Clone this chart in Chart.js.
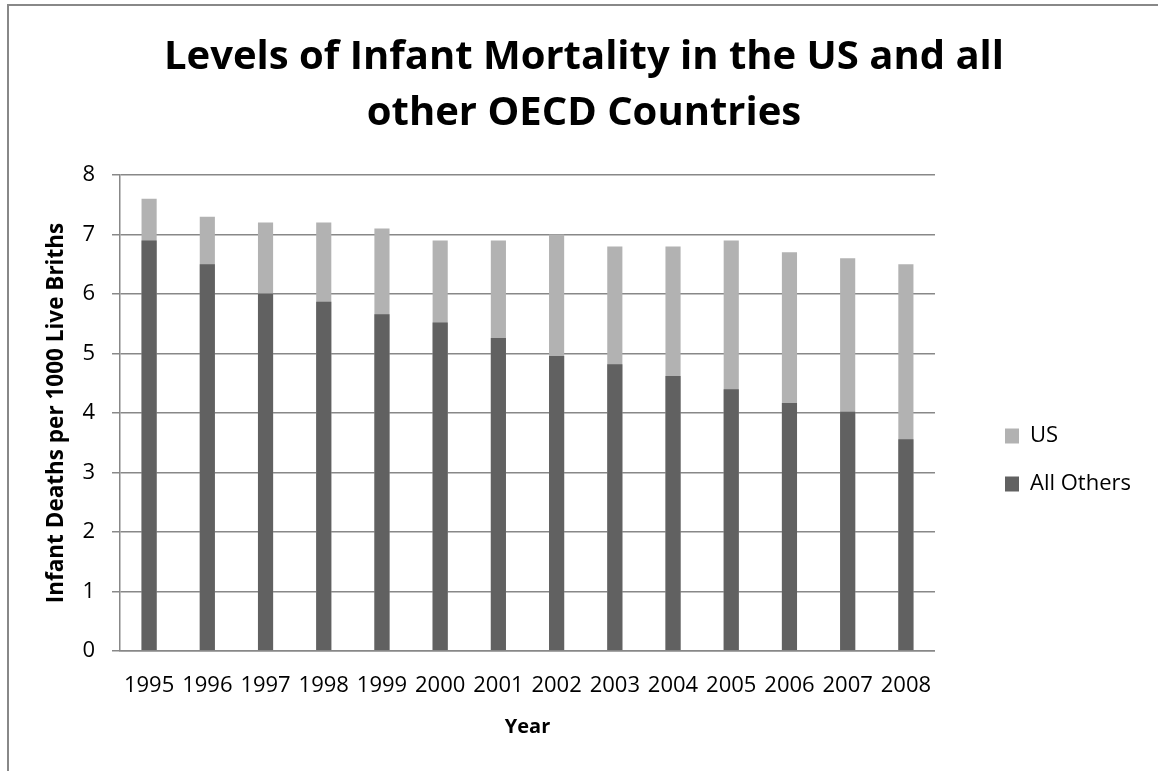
<!DOCTYPE html>
<html>
<head>
<meta charset="utf-8">
<script src="https://cdn.jsdelivr.net/npm/chart.js@4.4.1/dist/chart.umd.min.js"></script>
<style>
  html, body { margin: 0; padding: 0; background: #fff; overflow: hidden; }
  #wrap { position: relative; width: 1158px; height: 771px; }
  #frame { position: absolute; left: 7px; top: 4px; width: 2000px; height: 2000px;
           border: 2px solid #888888; box-sizing: border-box; }
  canvas { position: absolute; left: 0; top: 0; }
</style>
</head>
<body>
<div id="wrap">
  <div id="frame"></div>
  <canvas id="c" width="1158" height="771"></canvas>
</div>
<script>
const years = ['1995','1996','1997','1998','1999','2000','2001','2002','2003','2004','2005','2006','2007','2008'];
const usValues = [7.6, 7.3, 7.2, 7.2, 7.1, 6.9, 6.9, 7.0, 6.8, 6.8, 6.9, 6.7, 6.6, 6.5];
const allOthersValues = [6.9, 6.5, 6.01, 5.87, 5.66, 5.52, 5.26, 4.96, 4.82, 4.62, 4.4, 4.17, 4.02, 3.56];
const yTicks = [0, 1, 2, 3, 4, 5, 6, 7, 8];
const titleLines = ['Levels of Infant Mortality in the US and all', 'other OECD Countries'];
const yTitle = 'Infant Deaths per 1000 Live Briths';
const xTitle = 'Year';

Chart.defaults.font.family = "'Open Sans', sans-serif";
Chart.defaults.color = '#000';

const gridColor = '#888888';

new Chart(document.getElementById('c'), {
  type: 'bar',
  data: {
    labels: years,
    datasets: [
      { label: 'US', data: usValues, backgroundColor: '#b2b2b2', order: 1 },
      { label: 'All Others', data: allOthersValues, backgroundColor: '#616161', order: 0 }
    ]
  },
  options: {
    responsive: false,
    animation: false,
    datasets: { bar: { grouped: false, categoryPercentage: 1, barPercentage: 0.26 } },
    layout: { padding: { left: 27, right: 17, top: 0, bottom: 0 } },
    plugins: {
      tooltip: { enabled: false },
      title: {
        display: true,
        text: titleLines,
        color: '#000',
        font: { size: 40, weight: 'bold', lineHeight: 1.4 },
        padding: { top: 30, bottom: 33 }
      },
      legend: {
        display: true,
        position: 'right',
        align: 'start',
        title: { display: true, text: ' ', font: { size: 10 }, padding: { top: 0, bottom: 387 } },
        labels: {
          boxWidth: 14,
          boxHeight: 15,
          padding: 26,
          color: '#000',
          font: { size: 22 },
          sort: (a, b) => a.datasetIndex - b.datasetIndex
        }
      }
    },
    scales: {
      x: {
        grid: { display: false, drawTicks: false },
        border: { display: true, color: gridColor, width: 1.5 },
        ticks: { padding: 22, font: { size: 22 }, color: '#000', maxRotation: 0, autoSkip: false },
        title: { display: true, text: xTitle, font: { size: 20, weight: 'bold' }, padding: { top: 0, bottom: 32 } },
        afterFit: s => { s.height = 120; }
      },
      y: {
        min: 0,
        max: 8,
        afterBuildTicks: s => { s.ticks = yTicks.map(v => ({ value: v })); },
        grid: { color: gridColor, lineWidth: 1.5, tickLength: 8, tickColor: gridColor },
        border: { display: true, color: gridColor, width: 1.5 },
        ticks: { padding: 17, font: { size: 22 }, color: '#000' },
        title: { display: true, text: yTitle, font: { size: 22.5, weight: 'bold' }, padding: { top: 16.5, bottom: 0 } },
        afterFit: s => { s.width = 93; }
      },
      gap: {
        type: 'linear',
        position: 'right',
        display: true,
        grid: { display: false, drawTicks: false },
        border: { display: false },
        ticks: { display: false },
        afterFit: s => { s.width = 44; }
      }
    }
  }
});
</script>
</body>
</html>
